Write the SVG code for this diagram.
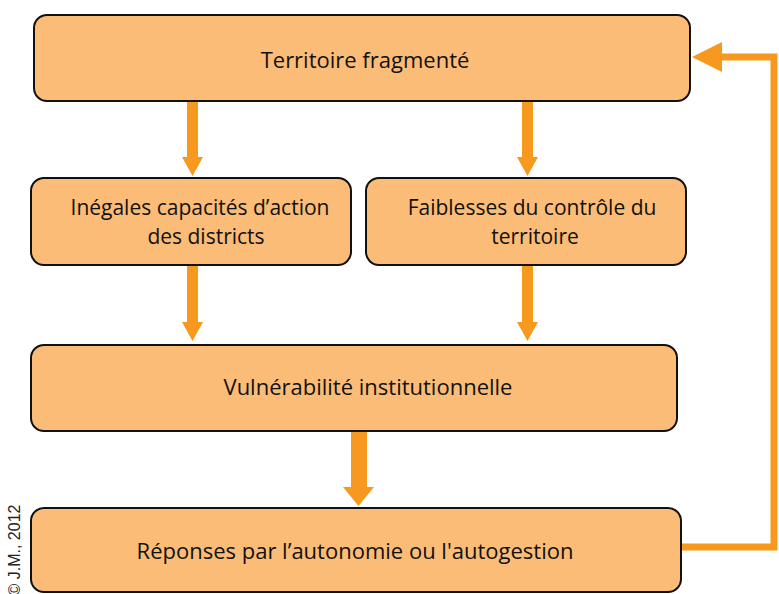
<svg xmlns="http://www.w3.org/2000/svg" width="779" height="594" viewBox="0 0 779 594">
<style>
.box{fill:#FBBC77;stroke:#111;stroke-width:2}
.t{font-family:"Open Sans","Liberation Sans",sans-serif;font-size:22px;fill:#111;text-anchor:middle}
.t2{font-size:21px}
.arr{fill:#F7981F}
.cp{font-family:"Liberation Sans",Arial,sans-serif;font-size:16px;fill:#222}
</style>
<rect width="779" height="594" fill="#fff"/>
<g id="connectors">
<polygon class="arr" points="187,101 198,101 198,157 203,157 192.5,176 182,157 187,157"/>
<polygon class="arr" points="522,101 533,101 533,157 538,157 527.5,176 517,157 522,157"/>
<polygon class="arr" points="187,265 198,265 198,322 203,322 192.5,341 182,322 187,322"/>
<polygon class="arr" points="522,265 533,265 533,322 538,322 527.5,341 517,322 522,322"/>
<polygon class="arr" points="351,431 367,431 367,487 374,487 358.5,506 343,487 351,487"/>
<polyline points="681,547 774,547 774,57 718,57" fill="none" stroke="#F7981F" stroke-width="7"/>
<polygon class="arr" points="692,57 722,42 722,72"/>
</g>
<g id="n1"><rect class="box" x="34" y="15" width="656" height="86" rx="13"/><text class="t" x="365" y="68">Territoire fragmenté</text></g>
<g id="n2"><rect class="box" x="31" y="178" width="320" height="87" rx="13"/><text class="t t2" x="200" y="215">Inégales capacités d’action</text><text class="t t2" x="206" y="244">des districts</text></g>
<g id="n3"><rect class="box" x="366" y="178" width="320" height="87" rx="13"/><text class="t t2" x="532" y="215">Faiblesses du contrôle du</text><text class="t t2" x="535" y="244">territoire</text></g>
<g id="n4"><rect class="box" x="31" y="345" width="646" height="86" rx="13"/><text class="t" x="368" y="395">Vulnérabilité institutionnelle</text></g>
<g id="n5"><rect class="box" x="31" y="508" width="650" height="84" rx="13"/><text class="t" x="355" y="559">Réponses par l’autonomie ou l'autogestion</text></g>
<text class="cp" transform="translate(20,550) rotate(-90)" text-anchor="middle">© J.M., 2012</text>
</svg>
